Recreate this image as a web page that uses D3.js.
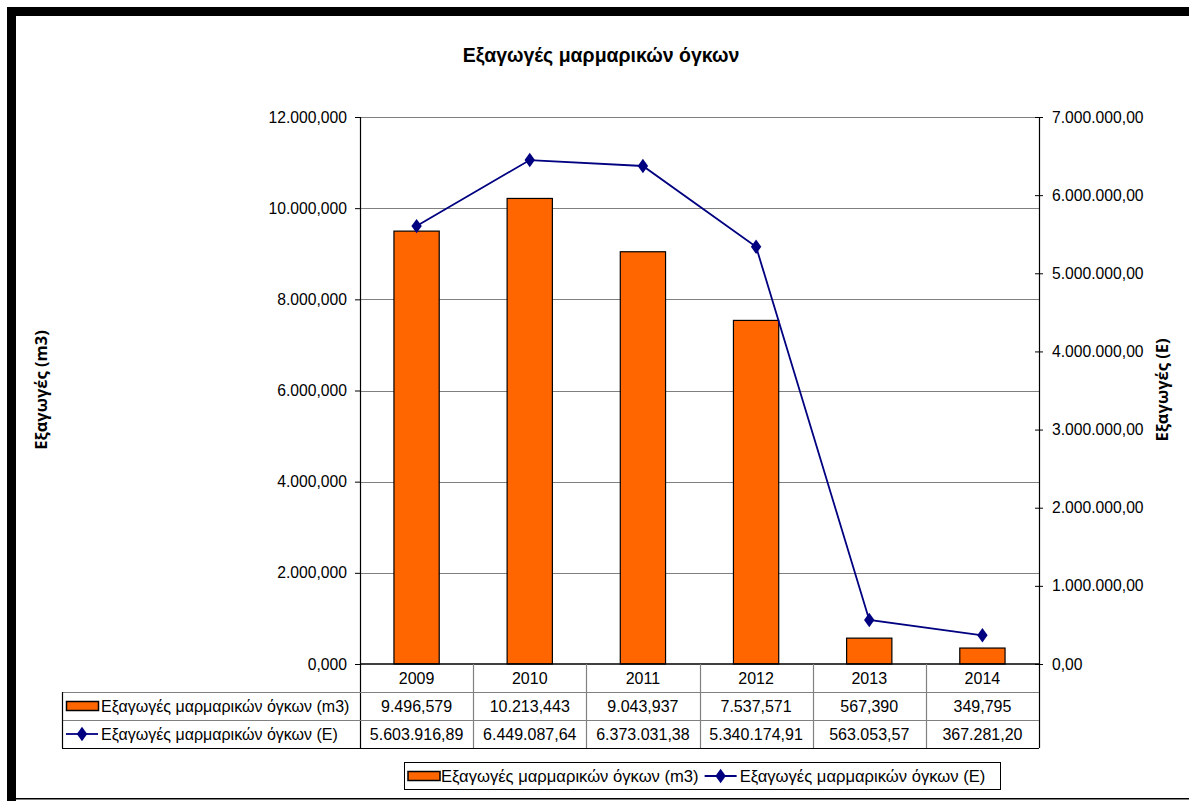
<!DOCTYPE html>
<html>
<head>
<meta charset="utf-8">
<script src="https://cdn.jsdelivr.net/npm/d3@7"></script>
<style>
  html, body { margin: 0; padding: 0; background: #fff; }
  svg { display: block; }
  text { font-family: "Liberation Sans", Arial, sans-serif; fill: #000; }
</style>
</head>
<body>
<svg id="chart" width="1189" height="801"></svg>
<script>
// ---- data ----
const years = ["2009", "2010", "2011", "2012", "2013", "2014"];
const volumeM3 = [9496.579, 10213.443, 9043.937, 7537.571, 567.390, 349.795];
const valueE = [5603916.89, 6449087.64, 6373031.38, 5340174.91, 563053.57, 367281.20];
const leftTicks = [0, 2000, 4000, 6000, 8000, 10000, 12000];
const rightTicks = [0, 1000000, 2000000, 3000000, 4000000, 5000000, 6000000, 7000000];
const title = "Εξαγωγές μαρμαρικών όγκων";
const seriesBar = "Εξαγωγές μαρμαρικών όγκων (m3)";
const seriesLine = "Εξαγωγές μαρμαρικών όγκων (E)";
const leftTitle = "Εξαγωγές (m3)";
const rightTitle = "Εξαγωγές (E)";

// ---- layout ----
const W = 1189, H = 801;
const plot = { left: 360, right: 1039, top: 117, bottom: 664 };
const rowH = 28;
const tableLeft = 62;
const ORANGE = "#FF6600", NAVY = "#000080", GRID = "#808080";

const loc = d3.formatLocale({ decimal: ",", thousands: ".", grouping: [3], currency: ["", ""] });
const fmt3 = loc.format(",.3f");
const fmt2 = loc.format(",.2f");

const svg = d3.select("#chart");

// frame
svg.append("rect").attr("x", 7).attr("y", 7).attr("width", W - 7).attr("height", 9).attr("fill", "#000");
svg.append("rect").attr("x", 7).attr("y", 7).attr("width", 9).attr("height", H - 7).attr("fill", "#000");
svg.append("rect").attr("x", 7).attr("y", 798).attr("width", W - 7).attr("height", 1.5).attr("fill", "#000");

// title
svg.append("text").attr("x", 601).attr("y", 62).attr("text-anchor", "middle")
  .style("font-size", "19.5px").style("font-weight", "bold").text(title);

// scales
const x = d3.scaleBand().domain(years).range([plot.left, plot.right]).padding(0);
const yL = d3.scaleLinear().domain([0, 12000]).range([plot.bottom, plot.top]);
const yR = d3.scaleLinear().domain([0, 7000000]).range([plot.bottom, plot.top]);

// gridlines (left axis)
svg.append("g").selectAll("line").data(leftTicks.filter(d => d > 0)).join("line")
  .attr("x1", plot.left).attr("x2", plot.right)
  .attr("y1", d => Math.round(yL(d)) + 0.5).attr("y2", d => Math.round(yL(d)) + 0.5)
  .attr("stroke", GRID).attr("stroke-width", 1.2);

// bars
const bw = x.bandwidth() * 0.4;
svg.append("g").selectAll("rect").data(volumeM3).join("rect")
  .attr("x", (d, i) => x(years[i]) + (x.bandwidth() - bw) / 2)
  .attr("y", d => yL(d))
  .attr("width", bw)
  .attr("height", d => plot.bottom - yL(d))
  .attr("fill", ORANGE).attr("stroke", "#000").attr("stroke-width", 1.2);

// left axis
const gL = svg.append("g").attr("transform", `translate(${plot.left},0)`)
  .call(d3.axisLeft(yL).tickValues(leftTicks).tickFormat(fmt3).tickSize(5).tickPadding(8));
gL.select(".domain").attr("stroke", "#000").attr("stroke-width", 1.2);
gL.selectAll(".tick line").attr("stroke", "#000");
gL.selectAll(".tick text").style("font-size", "15.7px").style("font-family", "Liberation Sans, Arial, sans-serif").attr("fill", "#000");

// right axis
const gR = svg.append("g").attr("transform", `translate(${plot.right},0)`)
  .call(d3.axisRight(yR).tickValues(rightTicks).tickFormat(fmt2).tickSize(4).tickPadding(9));
gR.select(".domain").attr("stroke", "#000").attr("stroke-width", 1.2);
gR.selectAll(".tick line").attr("stroke", "#000").attr("x1", -4);
gR.selectAll(".tick text").style("font-size", "15.7px").style("font-family", "Liberation Sans, Arial, sans-serif").attr("fill", "#000");

// bottom axis line
svg.append("line").attr("x1", plot.left).attr("x2", plot.right)
  .attr("y1", plot.bottom).attr("y2", plot.bottom).attr("stroke", "#000").attr("stroke-width", 1.5);

// line series
const cx = (i) => x(years[i]) + x.bandwidth() / 2;
const lineGen = d3.line().x((d, i) => cx(i)).y(d => yR(d));
svg.append("path").datum(valueE).attr("d", lineGen)
  .attr("fill", "none").attr("stroke", NAVY).attr("stroke-width", 1.8);
const diamond = d3.symbol().type(d3.symbolDiamond).size(60);
svg.append("g").selectAll("path").data(valueE).join("path")
  .attr("d", diamond)
  .attr("transform", (d, i) => `translate(${cx(i)},${yR(d)}) scale(1.25,1)`)
  .attr("fill", NAVY);

// axis titles
svg.append("text").attr("transform", "translate(47,390) rotate(-90)").attr("text-anchor", "middle")
  .style("font-family", "Open Sans, sans-serif").style("font-weight", "bold").style("font-size", "16.5px")
  .text(leftTitle);
svg.append("text").attr("transform", "translate(1168,390) rotate(-90)").attr("text-anchor", "middle")
  .style("font-family", "Open Sans, sans-serif").style("font-weight", "bold").style("font-size", "16.5px")
  .text(rightTitle);

// ---- data table ----
const tb = svg.append("g");
const r1 = plot.bottom + rowH, r2 = plot.bottom + 2 * rowH, r3 = plot.bottom + 3 * rowH;
const bounds = years.map(y => x(y)).concat([plot.right]);
tb.selectAll("line.v").data(bounds).join("line").attr("class", "v")
  .attr("x1", d => Math.round(d) + 0.5).attr("x2", d => Math.round(d) + 0.5)
  .attr("y1", plot.bottom).attr("y2", r3)
  .attr("stroke", (d, i) => (i === 0 || i === bounds.length - 1) ? "#000" : GRID)
  .attr("stroke-width", 1.2);
[r1, r2].forEach(yv => tb.append("line").attr("x1", tableLeft).attr("x2", plot.right)
  .attr("y1", yv + 0.5).attr("y2", yv + 0.5).attr("stroke", GRID).attr("stroke-width", 1.2));
tb.append("line").attr("x1", tableLeft).attr("x2", plot.right)
  .attr("y1", r3 + 0.5).attr("y2", r3 + 0.5).attr("stroke", "#000").attr("stroke-width", 1.2);
tb.append("line").attr("x1", tableLeft + 0.5).attr("x2", tableLeft + 0.5)
  .attr("y1", r1).attr("y2", r3).attr("stroke", "#000").attr("stroke-width", 1.2);

// header (years) and values
tb.selectAll("text.yr").data(years).join("text").attr("class", "yr")
  .attr("x", d => x(d) + x.bandwidth() / 2).attr("y", plot.bottom + rowH / 2)
  .attr("dy", "0.36em").attr("text-anchor", "middle").style("font-size", "16px").text(d => d);
tb.selectAll("text.v1").data(volumeM3).join("text").attr("class", "v1")
  .attr("x", (d, i) => cx(i)).attr("y", r1 + rowH / 2)
  .attr("dy", "0.36em").attr("text-anchor", "middle").style("font-size", "16px").text(d => fmt3(d));
tb.selectAll("text.v2").data(valueE).join("text").attr("class", "v2")
  .attr("x", (d, i) => cx(i)).attr("y", r2 + rowH / 2)
  .attr("dy", "0.36em").attr("text-anchor", "middle").style("font-size", "16px").text(d => fmt2(d));

// legend keys
function barKey(g, x0, yc) {
  g.append("rect").attr("x", x0).attr("y", yc - 4.5).attr("width", 32).attr("height", 9)
    .attr("fill", ORANGE).attr("stroke", "#000").attr("stroke-width", 1.5);
}
function lineKey(g, x0, yc) {
  g.append("line").attr("x1", x0).attr("x2", x0 + 32).attr("y1", yc).attr("y2", yc)
    .attr("stroke", NAVY).attr("stroke-width", 1.8);
  g.append("path").attr("d", diamond).attr("transform", `translate(${x0 + 16},${yc}) scale(1.25,1)`).attr("fill", NAVY);
}
barKey(tb, 66.5, r1 + rowH / 2);
lineKey(tb, 66, r2 + rowH / 2);
tb.append("text").attr("x", 101).attr("y", r1 + rowH / 2).attr("dy", "0.36em")
  .style("font-size", "16px").text(seriesBar);
tb.append("text").attr("x", 101).attr("y", r2 + rowH / 2).attr("dy", "0.36em")
  .style("font-size", "16px").text(seriesLine);

// ---- legend ----
const lg = svg.append("g");
lg.append("rect").attr("x", 404.5).attr("y", 762.5).attr("width", 596).attr("height", 27)
  .attr("fill", "#fff").attr("stroke", "#000").attr("stroke-width", 1);
barKey(lg, 408, 776);
const t1 = lg.append("text").attr("x", 441).attr("y", 776).attr("dy", "0.36em").style("font-size", "16.6px").text(seriesBar);
const lx = 441 + t1.node().getComputedTextLength() + 6;
lineKey(lg, lx, 776);
lg.append("text").attr("x", lx + 35).attr("y", 776).attr("dy", "0.36em").style("font-size", "16.6px").text(seriesLine);
</script>
</body>
</html>
